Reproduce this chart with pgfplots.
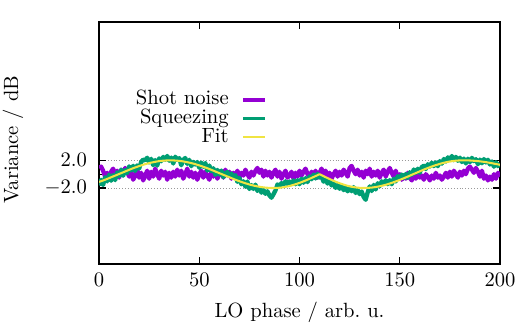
\documentclass[border=0pt]{standalone}
\usepackage{pgfplots}
\pgfplotsset{compat=1.18}

\definecolor{shotcol}{HTML}{9400D3}
\definecolor{sqzcol}{HTML}{009E73}
\definecolor{fitcol}{HTML}{F0E442}

\begin{document}
\begin{tikzpicture}
\path[use as bounding box] (0,0) rectangle (253.4pt,156.8pt);
\begin{axis}[
  at={(48.1pt,28.6pt)}, anchor=south west,
  scale only axis, width=194.6pt, height=117.5pt,
  xmin=0, xmax=200, ymin=-13, ymax=22,
  xtick={0,50,100,150,200},
  ytick={-2,2}, yticklabels={$-2.0$,$2.0$},
  extra y ticks={0}, extra y tick labels={},
  extra y tick style={grid=none},
  ymajorgrids, major grid style={densely dotted, gray!80, line width=0.4pt},
  tick align=inside, tick pos=both,
  major tick length=3.4pt,
  axis line style={line width=0.7pt},
  every tick/.style={line width=0.6pt, black},
  xticklabel style={yshift=-1pt},
  yticklabel style={xshift=-2.4pt},
  xlabel={LO phase / arb.\ u.},
  ylabel={Variance / dB},
  every axis x label/.style={at={(axis description cs:0.5,-0.2)}, anchor=center},
  every axis y label/.style={at={(axis description cs:-0.2148,0.513)}, rotate=90, anchor=center},
  legend plot pos=right,
  legend cell align=right,
  legend image code/.code={\draw[#1] (0pt,0pt) -- (10.7pt,0pt);},
  legend style={at={(0.419,0.716)}, anchor=north east, draw=none, fill=none,
    inner sep=0pt, outer sep=0pt, column sep=6.3pt,
    nodes={inner sep=0pt, text height=6.9pt, text depth=2.1pt}},
  trace/.style={line width=2.1pt, line join=round,
    legend image post style={line width=1.6pt}},
]
% balanced homodyne trace with blocked signal
\addplot[shotcol, trace] coordinates {
(0,0.9) (1,1.1) (2,0.5) (3,-0.35) (4,0.2) (5,-0.65) (6,0.35) (7,0.8) (8,-0.2) (9,0.5)
(10,-0.5) (11,0.65) (12,0.0) (13,0.9) (14,0.35) (15,-0.35) (16,0.5) (17,-0.8) (18,-0.2) (19,0.65)
(20,-0.5) (21,0.2) (22,-0.9) (23,-0.2) (24,0.5) (25,-0.65) (26,0.35) (27,-0.35) (28,0.8) (29,0.0)
(30,-0.65) (31,0.5) (32,-0.2) (33,0.35) (34,-0.8) (35,0.2) (36,-0.5) (37,0.35) (38,-0.35) (39,0.65)
(40,-0.2) (41,0.5) (42,-0.65) (43,0.0) (44,0.8) (45,-0.35) (46,0.35) (47,-0.5) (48,0.2) (49,-0.8)
(50,0.0) (51,0.5) (52,-0.5) (53,0.35) (54,-0.2) (55,-0.8) (56,0.2) (57,-0.35) (58,0.5) (59,-0.65)
(60,0.0) (61,0.35) (62,-0.5) (63,0.65) (64,-0.2) (65,0.35) (66,-0.65) (67,0.2) (68,-0.35) (69,0.5)
(70,-0.5) (71,0.2) (72,-0.2) (73,0.65) (74,0.0) (75,-0.5) (76,0.35) (77,-0.2) (78,0.5) (79,0.9)
(80,0.2) (81,0.65) (82,-0.35) (83,0.5) (84,-0.2) (85,0.35) (86,-0.5) (87,0.2) (88,0.65) (89,-0.35)
(90,0.35) (91,-0.65) (92,0.0) (93,0.5) (94,-0.5) (95,-0.2) (96,0.35) (97,-0.65) (98,0.2) (99,-0.35)
(100,0.5) (101,-0.2) (102,0.35) (103,0.8) (104,0.0) (105,-0.5) (106,0.35) (107,-0.2) (108,0.5) (109,-0.5)
(110,0.2) (111,0.8) (112,0.0) (113,0.5) (114,-0.35) (115,0.2) (116,-0.65) (117,0.0) (118,0.5) (119,-0.35)
(120,0.35) (121,-0.2) (122,0.65) (123,0.2) (124,-0.35) (125,0.9) (126,1.2) (127,0.5) (128,0.0) (129,0.65)
(130,-0.2) (131,0.35) (132,-0.5) (133,0.5) (134,0.0) (135,0.8) (136,-0.35) (137,0.35) (138,-0.2) (139,0.5)
(140,-0.5) (141,0.2) (142,0.65) (143,-0.35) (144,0.35) (145,0.9) (146,0.2) (147,-0.35) (148,0.5) (149,-0.5)
(150,0.0) (151,-0.8) (152,-0.2) (153,-0.65) (154,0.2) (155,-0.5) (156,-0.9) (157,-0.2) (158,-0.65) (159,0.35)
(160,-0.5) (161,-0.2) (162,-0.8) (163,0.0) (164,-0.35) (165,-0.9) (166,-0.2) (167,-0.65) (168,0.2) (169,-0.5)
(170,-0.2) (171,-0.8) (172,-0.35) (173,0.2) (174,-0.5) (175,0.35) (176,-0.35) (177,0.5) (178,0.0) (179,-0.5)
(180,0.35) (181,-0.2) (182,0.5) (183,0.0) (184,0.8) (185,1.1) (186,0.65) (187,0.2) (188,0.9) (189,0.35)
(190,-0.35) (191,0.5) (192,-0.65) (193,-0.2) (194,-0.9) (195,-0.35) (196,-0.8) (197,0.0) (198,-0.65) (199,0.2)
(200,-0.35)
};
\addlegendentry{Shot noise}
% squeezed vacuum trace while scanning the local oscillator phase
\addplot[sqzcol, trace] coordinates {
(0,-1.62) (1,-0.82) (2,-1.56) (3,-0.45) (4,-1.04) (5,-0.07) (6,-0.95) (7,-0.13) (8,-0.86) (9,0.26)
(10,-0.32) (11,0.65) (12,-0.23) (13,0.59) (14,0.16) (15,1.13) (16,0.55) (17,1.21) (18,0.47) (19,1.27)
(20,0.82) (21,1.77) (22,2.11) (23,2.00) (24,2.38) (25,1.70) (26,2.22) (27,1.29) (28,2.04) (29,1.24)
(30,2.29) (31,1.88) (32,2.50) (33,2.08) (34,2.64) (35,1.95) (36,2.40) (37,1.54) (38,2.53) (39,2.05)
(40,2.33) (41,1.29) (42,2.09) (43,2.34) (44,1.49) (45,2.07) (46,1.15) (47,1.78) (48,1.40) (49,1.76)
(50,0.92) (51,1.67) (52,1.07) (53,1.62) (54,0.51) (55,1.25) (56,0.43) (57,0.86) (58,-0.11) (59,0.62)
(60,-0.05) (61,0.53) (62,-0.44) (63,0.14) (64,0.32) (65,-0.25) (66,0.08) (67,-0.34) (68,-0.15) (69,-1.11)
(70,-0.52) (71,-1.47) (72,-1.02) (73,-1.81) (74,-1.05) (75,-2.14) (76,-1.57) (77,-2.14) (78,-1.51) (79,-2.42)
(80,-2.02) (81,-2.67) (82,-2.26) (83,-2.84) (84,-2.47) (85,-3.09) (86,-3.40) (87,-2.90) (88,-2.35) (89,-1.48)
(90,-1.76) (91,-1.28) (92,-1.53) (93,-1.03) (94,-1.43) (95,-1.06) (96,-1.43) (97,-0.90) (98,-1.46) (99,-0.86)
(100,-1.46) (101,-0.65) (102,-1.24) (103,-0.57) (104,-1.15) (105,-0.32) (106,-0.74) (107,-0.06) (108,-0.62) (109,0.06)
(110,-0.50) (111,-0.34) (112,-1.08) (113,-0.78) (114,-1.36) (115,-0.90) (116,-1.63) (117,-1.31) (118,-1.98) (119,-1.55)
(120,-2.11) (121,-1.61) (122,-2.31) (123,-1.95) (124,-2.48) (125,-1.96) (126,-2.47) (127,-1.87) (128,-2.72) (129,-2.30)
(130,-2.88) (131,-2.50) (132,-3.30) (133,-3.70) (134,-2.63) (135,-1.76) (136,-2.44) (137,-1.55) (138,-2.21) (139,-1.31)
(140,-1.75) (141,-1.03) (142,-1.41) (143,-0.88) (144,-1.45) (145,-0.86) (146,-1.46) (147,-0.66) (148,-1.05) (149,-0.29)
(150,-0.63) (151,-0.06) (152,-0.59) (153,0.03) (154,-0.55) (155,0.28) (156,-0.09) (157,0.68) (158,0.16) (159,0.79)
(160,0.21) (161,1.04) (162,1.21) (163,0.73) (164,1.44) (165,1.10) (166,1.66) (167,1.16) (168,1.71) (169,1.15)
(170,1.89) (171,1.52) (172,2.20) (173,1.82) (174,2.43) (175,2.08) (176,2.63) (177,2.02) (178,2.50) (179,1.93)
(180,2.39) (181,1.75) (182,2.25) (183,1.55) (184,2.24) (185,1.73) (186,2.36) (187,1.89) (188,2.17) (189,1.44)
(190,2.11) (191,1.57) (192,2.18) (193,1.69) (194,2.09) (195,1.39) (196,1.84) (197,1.08) (198,1.73) (199,1.16)
(200,1.60)
};
\addlegendentry{Squeezing}
% fitted curve; the phase sweep reverses at 110
\addplot[fitcol, line width=1pt, line join=round] coordinates {
(0,-1.12) (2,-0.91) (4,-0.69) (6,-0.45) (8,-0.21) (10,0.03) (12,0.27) (14,0.51) (16,0.75) (18,0.97)
(20,1.17) (22,1.36) (24,1.53) (26,1.67) (28,1.79) (30,1.89) (32,1.95) (34,1.99) (35.5,2.00) (37,1.99)
(39,1.95) (41,1.89) (43,1.79) (45,1.67) (47,1.53) (49,1.36) (51,1.17) (53,0.97) (55,0.75) (57,0.51)
(59,0.27) (61,0.03) (63,-0.21) (65,-0.45) (67,-0.69) (69,-0.91) (71,-1.12) (73,-1.31) (75,-1.49) (77,-1.64)
(79,-1.77) (81,-1.87) (83,-1.94) (85,-1.99) (87,-2.00) (89,-1.98) (91,-1.93) (93,-1.83) (95,-1.71) (97,-1.55)
(99,-1.36) (101,-1.15) (103,-0.92) (105,-0.67) (107,-0.41) (109,-0.14) (110,0.00) (111,-0.14) (113,-0.43) (115,-0.70)
(117,-0.96) (119,-1.20) (121,-1.41) (123,-1.60) (125,-1.76) (127,-1.87) (129,-1.95) (131,-2.00) (132,-2.00) (134,-1.98)
(136,-1.94) (138,-1.86) (140,-1.75) (142,-1.61) (144,-1.45) (146,-1.26) (148,-1.05) (150,-0.83) (152,-0.59) (154,-0.35)
(156,-0.09) (158,0.16) (160,0.41) (162,0.66) (164,0.89) (166,1.11) (168,1.31) (170,1.49) (172,1.65) (174,1.78)
(176,1.88) (178,1.95) (180,1.99) (181.5,2.00) (183,2.00) (185,1.98) (187,1.94) (189,1.89) (191,1.82) (193,1.74)
(195,1.64) (197,1.53) (199,1.41) (200,1.35)
};
\addlegendentry{Fit}
\end{axis}
\end{tikzpicture}
\end{document}
